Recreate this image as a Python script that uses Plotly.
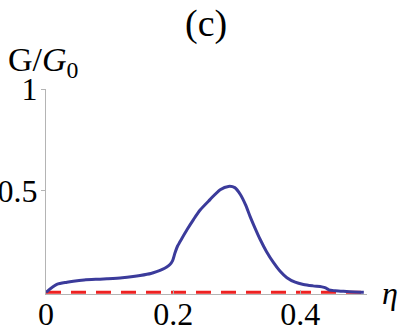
import plotly.graph_objects as go

# Data
eta = [0, 0.017, 0.033, 0.043, 0.06, 0.085, 0.096, 0.12, 0.137, 0.148, 0.165, 0.174,
       0.183, 0.19, 0.195, 0.199, 0.203, 0.207, 0.211, 0.222, 0.232, 0.2425, 0.258,
       0.274, 0.287, 0.297, 0.306, 0.314, 0.321, 0.329, 0.337, 0.347, 0.358, 0.368,
       0.379, 0.392, 0.405, 0.42, 0.434, 0.44, 0.445, 0.455, 0.468, 0.485, 0.5]
G = [0, 0.039, 0.05, 0.055, 0.061, 0.065, 0.067, 0.072, 0.078, 0.083, 0.093, 0.102,
     0.113, 0.125, 0.137, 0.155, 0.195, 0.228, 0.25, 0.309, 0.358, 0.405, 0.456,
     0.505, 0.521, 0.515, 0.48, 0.43, 0.374, 0.315, 0.26, 0.2, 0.146, 0.105,
     0.072, 0.05, 0.039, 0.032, 0.027, 0.022, 0.012, 0.008, 0.005, 0.002, 0.001]
eta_ref = [0, 0.5]
G_ref = [0, 0]

x_ticks = [0, 0.2, 0.4]
x_ticklabels = ["0", "0.2", "0.4"]
y_ticks = [0.5, 1]
y_ticklabels = ["0.5", "1"]

FONT = "Liberation Serif, Times New Roman, serif"
AXIS_COLOR = "#b4b4b4"
TICK_SIZE = 32

W, H = 399, 334
L, R, T, B = 46, 32, 89, 40

fig = go.Figure()
fig.add_trace(go.Scatter(x=eta_ref, y=G_ref, mode="lines",
                         line=dict(color="#ee2222", width=3, dash="15px,10px"),
                         hoverinfo="skip"))
fig.add_trace(go.Scatter(x=eta, y=G, mode="lines",
                         line=dict(color="#3b3b9b", width=3, shape="spline", smoothing=0.8),
                         hoverinfo="skip"))

pw = W - L - R
ph = H - T - B
def px_to_paper(px, py):
    return (px - L) / pw, (H - B - py) / ph

tx, ty = px_to_paper(206, 24)
gx, gy = px_to_paper(6, 62)
ex, ey = px_to_paper(380, 293)

fig.update_layout(
    width=W, height=H,
    margin=dict(l=L, r=R, t=T, b=B, autoexpand=False),
    paper_bgcolor="white", plot_bgcolor="white",
    showlegend=False,
    font=dict(family=FONT, color="black", size=TICK_SIZE),
    xaxis=dict(range=[0, 0.505], showgrid=False, zeroline=False, automargin=False,
               showline=True, linecolor=AXIS_COLOR, linewidth=1,
               tickmode="array", tickvals=x_ticks, ticktext=x_ticklabels,
               ticks="inside", ticklen=4, tickcolor=AXIS_COLOR,
               ticklabelstandoff=-8,
               tickfont=dict(family=FONT, size=TICK_SIZE, color="black")),
    yaxis=dict(range=[-0.008, 1], showgrid=False, zeroline=False, automargin=False,
               showline=True, linecolor=AXIS_COLOR, linewidth=1,
               tickmode="array", tickvals=y_ticks, ticktext=y_ticklabels,
               ticks="outside", ticklen=4, tickcolor=AXIS_COLOR,
               ticklabelstandoff=-3,
               tickfont=dict(family=FONT, size=TICK_SIZE, color="black")),
    annotations=[
        dict(text="(c)", x=tx, y=ty, xref="paper", yref="paper", showarrow=False,
             xanchor="center", yanchor="middle",
             font=dict(family=FONT, size=38, color="black")),
        dict(text="G/<i>G</i><sub>0</sub>", x=gx, y=gy, xref="paper", yref="paper",
             xanchor="left", yanchor="middle", showarrow=False,
             font=dict(family=FONT, size=34, color="black")),
        dict(text="<i>η</i>", x=ex, y=ey, xref="paper", yref="paper",
             xanchor="left", yanchor="middle", showarrow=False,
             font=dict(family=FONT, size=32, color="black")),
    ],
)

fig.write_html("out.html", config={"displayModeBar": False},
               post_script="document.body.style.margin='0';")
